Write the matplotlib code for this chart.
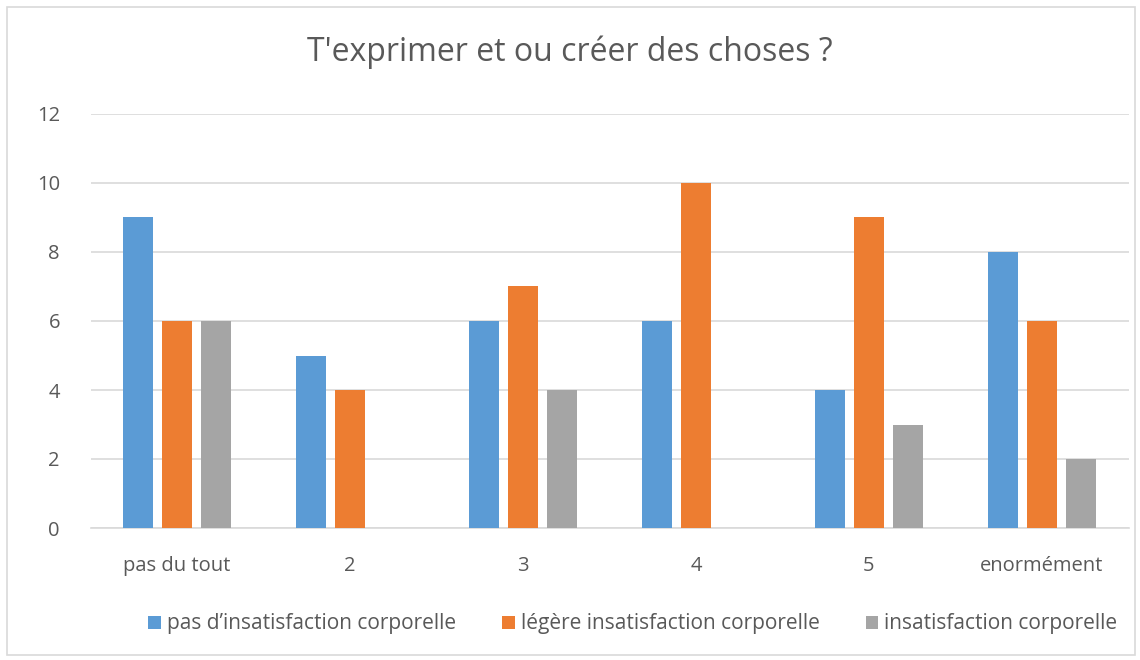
import numpy as np
import matplotlib
matplotlib.use("Agg")
import matplotlib.pyplot as plt
from matplotlib.patches import Rectangle

categories = ["pas du tout", "2", "3", "4", "5", "enormément"]
series_names = ["pas d’insatisfaction corporelle",
                "légère insatisfaction corporelle",
                "insatisfaction corporelle"]
pas_insat = [9, 5, 6, 6, 4, 8]
legere_insat = [6, 4, 7, 10, 9, 6]
insat = [6, 0, 4, 0, 3, 2]

colors = ["#5b9bd5", "#ed7d31", "#a5a5a5"]
text_col = "#595959"

plt.rcParams['font.family'] = ['Open Sans', 'DejaVu Sans']

fig = plt.figure(figsize=(11.4, 6.6), dpi=100)
ax = fig.add_axes([90.5 / 1140, 0.2, 1038 / 1140, 414 / 660])

x = np.arange(len(categories))
width = 30 / 173
step = 38.6 / 173
for i, (vals, name) in enumerate(zip([pas_insat, legere_insat, insat], series_names)):
    ax.bar(x + (i - 1) * step, vals, width, color=colors[i], label=name, zorder=3)

ax.set_xlim(-0.5, len(categories) - 0.5)
ax.set_ylim(0, 12)
ax.set_yticks(range(0, 13, 2))
ax.set_xticks(x)
ax.set_xticklabels(categories)
ax.grid(axis='y', color="#d9d9d9", linewidth=1.2, zorder=0)
for s in ["top", "right", "left"]:
    ax.spines[s].set_visible(False)
ax.spines["bottom"].set_color("#d9d9d9")
ax.spines["bottom"].set_linewidth(1.2)
ax.tick_params(axis='both', length=0, labelsize=14.5, colors=text_col)
ax.tick_params(axis='y', pad=22)
ax.tick_params(axis='x', pad=20)

fig.text(0.5, 1 - 52 / 660, "T'exprimer et ou créer des choses ?", ha='center', va='center',
         fontsize=23, color=text_col)

ax.legend(loc='center', bbox_to_anchor=(633 / 1140, 1 - 624 / 660), bbox_transform=fig.transFigure,
          ncol=3, frameon=False, fontsize=15, labelcolor=text_col,
          handlelength=0.6, handleheight=0.6, handletextpad=0.3, columnspacing=2.2)

fig.patches.append(Rectangle((7 / 1140, 5 / 660), 1128 / 1140, 648 / 660, transform=fig.transFigure,
                             fill=False, edgecolor="#d9d9d9", linewidth=1.2))

fig.savefig("out.png", dpi=100, facecolor="white")
